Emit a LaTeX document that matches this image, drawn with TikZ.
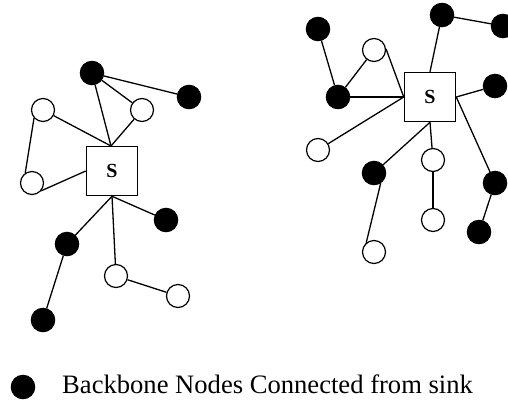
\documentclass[tikz,border=0pt]{standalone}
\usepackage{fontspec}
\setmainfont{Liberation Serif}
\usepackage{tikz}
\tikzstyle{bb}=[circle,fill=black,draw=black,line width=1pt,minimum size=23.5pt,inner sep=0pt]
\tikzstyle{wn}=[circle,fill=white,draw=black,line width=1.2pt,minimum size=23pt,inner sep=0pt]
\tikzstyle{sink}=[draw=black,fill=white,line width=1.5pt,minimum width=51pt,minimum height=49pt,inner sep=0pt,font=\fontsize{20}{22}\selectfont\bfseries]
\tikzstyle{link}=[line width=1.3pt]

\begin{document}
\begin{tikzpicture}[x=1pt,y=-1pt]
\useasboundingbox (0,0) rectangle (508,402);
%first cluster
\node[sink] (S) at (112,171) {S};
\node[bb] (A) at (92,73) {};
\node[bb] (AB) at (189,97) {};
\node[wn] (B) at (43,110) {};
\node[wn] (C) at (142,110) {};
\node[wn] (BZ) at (32,183) {};
\node[bb] (D) at (166,220) {};
\node[bb] (E) at (67,244) {};
\node[wn] (F) at (116,276) {};
\node[wn] (FB) at (178,296) {};
\node[bb] (EZ) at (43,320) {};
\coordinate (ST) at (111,146);
\draw[link] (A)--(AB);
\draw[link] (A)--(C);
\draw[link] (A)--(ST);
\draw[link] (B)--(ST);
\draw[link] (C)--(ST);
\draw[link] (B.222)--(BZ.124);
\draw[link] (BZ.-40)--(S.west);
\draw[link] (S.south)--(D);
\draw[link] (S.south)--(E);
\draw[link] (S.south)--(F);
\draw[link] (F)--(FB);
\draw[link] (E)--(EZ);
%second cluster
\node[sink] (S2) at (430,97) {S};
\node[bb] (A2) at (318,29) {};
\node[wn] (B2) at (374,50) {};
\node[bb] (C2) at (442,15) {};
\node[bb] (CB2) at (503,26) {};
\node[bb] (D2) at (338,97) {};
\node[bb] (E2) at (495,86) {};
\node[wn] (F2) at (318,150) {};
\node[wn] (G2) at (433,160) {};
\node[bb] (H2) at (374,173) {};
\node[bb] (I2) at (495,183) {};
\node[wn] (GZ2) at (433,220) {};
\node[bb] (IZ2) at (479,232) {};
\node[wn] (HZ2) at (374,252) {};
\draw[link] (A2)--(D2);
\draw[link] (B2)--(D2);
\draw[link] (B2.5)--(S2.west);
\draw[link] (D2)--(S2.west);
\draw[link] (F2)--(S2.west);
\draw[link] (C2)--(S2.north);
\draw[link] (C2)--(CB2);
\draw[link] (S2.east)--(E2);
\draw[link] (S2.east)--(I2);
\draw[link] (S2.south)--(H2);
\draw[link] (S2.south)--(G2);
\draw[link] (G2)--(GZ2);
\draw[link] (H2.-57)--(HZ2.130);
\draw[link] (I2)--(IZ2);
%legend
\node[bb] (L) at (23,387) {};
\node[anchor=base west,inner sep=0pt,font=\fontsize{26.6}{28}\selectfont] (LT) at (62,393) {Backbone Nodes Connected from sink};
\end{tikzpicture}
\end{document}
